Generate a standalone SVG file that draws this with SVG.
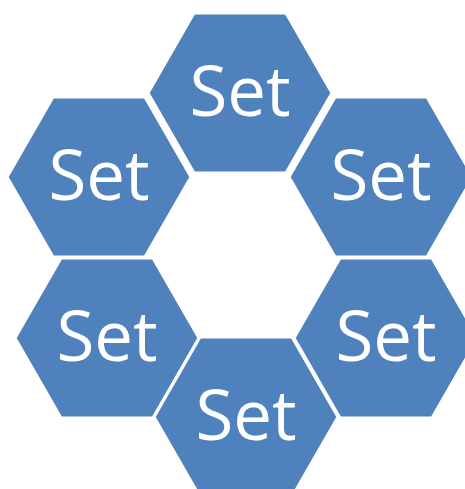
<svg xmlns="http://www.w3.org/2000/svg" width="465" height="489" viewBox="0 0 465 489">
<defs>
<style>
.hex{fill:#4F81BD;stroke:#FFFFFF;stroke-width:3;stroke-linejoin:miter}
.lbl{fill:#FFFFFF;font-family:"Open Sans","Noto Sans","Liberation Sans",sans-serif;font-size:69px;text-anchor:middle}
</style>
<polygon id="hexShape" points="-92,0 -46,-80 46,-80 92,0 46,80 -46,80"/>
</defs>
<rect width="465" height="489" fill="#FFFFFF"/>
<g id="connectors"/>
<g id="node-left-top">
<use href="#hexShape" class="hex" transform="translate(99,177)"/>
<text class="lbl" x="99" y="200">Set</text>
</g>
<g id="node-right-top">
<use href="#hexShape" class="hex" transform="translate(381,177)"/>
<text class="lbl" x="381" y="200">Set</text>
</g>
<g id="node-left-bottom">
<use href="#hexShape" class="hex" transform="translate(107,338)"/>
<text class="lbl" x="107" y="361">Set</text>
</g>
<g id="node-right-bottom">
<use href="#hexShape" class="hex" transform="translate(386,338)"/>
<text class="lbl" x="386" y="361">Set</text>
</g>
<g id="node-top">
<use href="#hexShape" class="hex" transform="translate(240,93)"/>
<text class="lbl" x="240" y="116">Set</text>
</g>
<g id="node-bottom">
<use href="#hexShape" class="hex" transform="translate(246,417)"/>
<text class="lbl" x="246" y="440">Set</text>
</g>
</svg>
